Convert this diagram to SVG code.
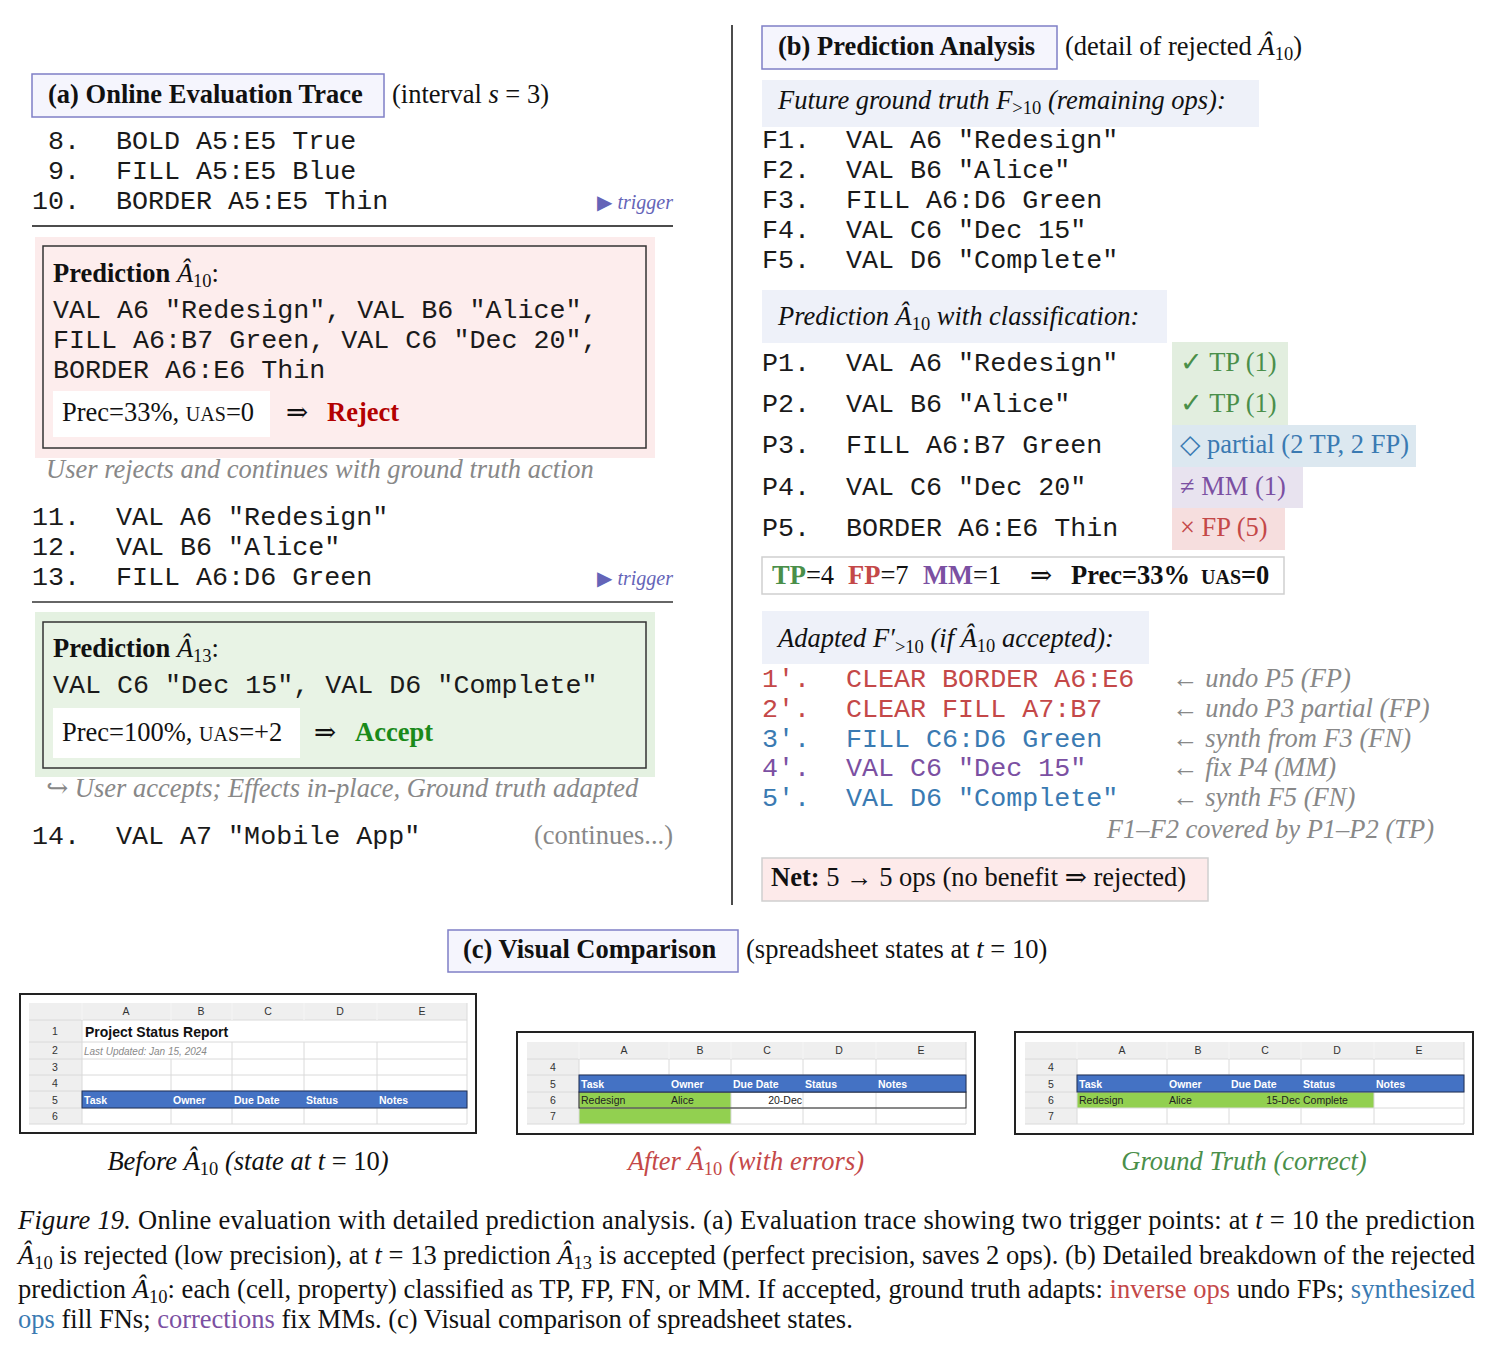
<svg xmlns="http://www.w3.org/2000/svg" width="1494" height="1350" viewBox="0 0 1494 1350">
<style>
text{font-family:"Liberation Serif","DejaVu Serif",serif;font-size:26.5px;fill:#111}
.mono{font-family:"Liberation Mono","DejaVu Sans Mono",monospace;font-size:26.7px;fill:#1a1a1a}
.it{font-style:italic}
.b{font-weight:bold}
.gray{fill:#888}
.sub{font-size:18.5px}
.hdr{fill:#f5f5fd;stroke:#7f7fc6;stroke-width:1.5}
.sec{fill:#eef1f9}
.trig{font-size:20px;fill:#6464b8}
.red{fill:#c44848}
.blue{fill:#3a7ab2}
.purp{fill:#7b50a2}
.green{fill:#4a8f4a}
.sc{font-size:20px}
.ss{font-family:"Liberation Sans","DejaVu Sans",sans-serif;font-size:10.5px;fill:#222}
.ssh{font-family:"Liberation Sans","DejaVu Sans",sans-serif;font-size:10.5px;fill:#fff;font-weight:bold}
.ssn{font-family:"Liberation Sans","DejaVu Sans",sans-serif;font-size:10.5px;fill:#333;text-anchor:middle}
.grid{stroke:#dadada;stroke-width:1;fill:none}
.hbg{fill:#efefef}
.frame{fill:#fff;stroke:#222;stroke-width:2}
.bluerow{fill:#4472c4;stroke:#1f2f55;stroke-width:1}
.gfill{fill:#92d050}
</style>
<rect width="1494" height="1350" fill="#fff"/>

<!-- ===== Panel (a) ===== -->
<g id="panel-a-header">
<rect class="hdr" x="32" y="74" width="352" height="43"/>
<text x="48" y="103" class="b">(a) Online Evaluation Trace</text>
<text x="392" y="103">(interval <tspan class="it">s</tspan> = 3)</text>
</g>
<g id="trace-8-10">
<text class="mono" x="48" y="149">8.</text><text class="mono" x="116" y="149">BOLD A5:E5 True</text>
<text class="mono" x="48" y="179">9.</text><text class="mono" x="116" y="179">FILL A5:E5 Blue</text>
<text class="mono" x="32" y="209">10.</text><text class="mono" x="116" y="209">BORDER A5:E5 Thin</text>
<text class="trig" x="673" y="209" text-anchor="end">▶ <tspan class="it">trigger</tspan></text>
<line x1="32" y1="226" x2="673" y2="226" stroke="#111" stroke-width="1.5"/>
</g>
<g id="pred-a10">
<rect x="35" y="237" width="620" height="221" fill="#fcebeb"/>
<rect x="43" y="246" width="603" height="202" fill="#fdeded" stroke="#333" stroke-width="1.5"/>
<text x="53" y="282"><tspan class="b">Prediction</tspan> <tspan class="it">Â</tspan><tspan class="sub" dy="5">10</tspan><tspan dy="-5">:</tspan></text>
<text class="mono" x="53" y="318">VAL A6 "Redesign", VAL B6 "Alice",</text>
<text class="mono" x="53" y="348">FILL A6:B7 Green, VAL C6 "Dec 20",</text>
<text class="mono" x="53" y="378">BORDER A6:E6 Thin</text>
<rect x="53" y="391" width="217" height="46" fill="#fff"/>
<text x="62" y="421">Prec=33%, <tspan class="sc">UAS</tspan>=0</text>
<text x="286" y="421">⇒</text>
<text x="327" y="421" class="b" style="fill:#b30000">Reject</text>
</g>
<text x="46" y="478" class="it gray">User rejects and continues with ground truth action</text>
<g id="trace-11-13">
<text class="mono" x="32" y="525">11.</text><text class="mono" x="116" y="525">VAL A6 "Redesign"</text>
<text class="mono" x="32" y="555">12.</text><text class="mono" x="116" y="555">VAL B6 "Alice"</text>
<text class="mono" x="32" y="585">13.</text><text class="mono" x="116" y="585">FILL A6:D6 Green</text>
<text class="trig" x="673" y="585" text-anchor="end">▶ <tspan class="it">trigger</tspan></text>
<line x1="32" y1="602" x2="673" y2="602" stroke="#333" stroke-width="1.5"/>
</g>
<g id="pred-a13">
<rect x="35" y="612" width="620" height="165" fill="#e4f1e1"/>
<rect x="43" y="622" width="603" height="146" fill="#e8f3e5" stroke="#333" stroke-width="1.5"/>
<text x="53" y="657"><tspan class="b">Prediction</tspan> <tspan class="it">Â</tspan><tspan class="sub" dy="5">13</tspan><tspan dy="-5">:</tspan></text>
<text class="mono" x="53" y="693">VAL C6 "Dec 15", VAL D6 "Complete"</text>
<rect x="53" y="708" width="247" height="50" fill="#fff"/>
<text x="62" y="741">Prec=100%, <tspan class="sc">UAS</tspan>=+2</text>
<text x="314" y="741">⇒</text>
<text x="355" y="741" class="b" style="fill:#1a8a1a">Accept</text>
</g>
<text x="46" y="797" class="gray">↪ <tspan class="it">User accepts; Effects in-place, Ground truth adapted</tspan></text>
<g id="trace-14">
<text class="mono" x="32" y="844">14.</text><text class="mono" x="116" y="844">VAL A7 "Mobile App"</text>
<text x="673" y="844" text-anchor="end" class="gray">(continues...)</text>
</g>

<!-- divider -->
<g id="connectors">
<line x1="732" y1="25" x2="732" y2="905" stroke="#111" stroke-width="1.5"/>
</g>

<!-- ===== Panel (b) ===== -->
<g id="panel-b-header">
<rect class="hdr" x="762" y="26" width="295" height="43"/>
<text x="778" y="55" class="b">(b) Prediction Analysis</text>
<text x="1065" y="55">(detail of rejected <tspan class="it">Â</tspan><tspan class="sub" dy="5">10</tspan><tspan dy="-5">)</tspan></text>
</g>
<g id="future-gt">
<rect class="sec" x="762" y="80" width="497" height="47"/>
<text x="778" y="109" class="it">Future ground truth F<tspan class="sub" dy="5" style="font-style:normal">&gt;10</tspan><tspan dy="-5"> (remaining ops):</tspan></text>
<text class="mono" x="762" y="148">F1.</text><text class="mono" x="846" y="148">VAL A6 "Redesign"</text>
<text class="mono" x="762" y="178">F2.</text><text class="mono" x="846" y="178">VAL B6 "Alice"</text>
<text class="mono" x="762" y="208">F3.</text><text class="mono" x="846" y="208">FILL A6:D6 Green</text>
<text class="mono" x="762" y="238">F4.</text><text class="mono" x="846" y="238">VAL C6 "Dec 15"</text>
<text class="mono" x="762" y="268">F5.</text><text class="mono" x="846" y="268">VAL D6 "Complete"</text>
</g>
<g id="classification">
<rect class="sec" x="762" y="290" width="405" height="53"/>
<text x="778" y="325" class="it">Prediction Â<tspan class="sub" dy="5" style="font-style:normal">10</tspan><tspan dy="-5"> with classification:</tspan></text>
<rect x="1172" y="342" width="116" height="41" fill="#e2eedf"/>
<rect x="1172" y="383" width="116" height="42" fill="#e2eedf"/>
<rect x="1172" y="425" width="244" height="42" fill="#dce8f0"/>
<rect x="1172" y="467" width="131" height="41" fill="#e8e3ef"/>
<rect x="1172" y="508" width="113" height="42" fill="#f6dede"/>
<text class="mono" x="762" y="371">P1.</text><text class="mono" x="846" y="371">VAL A6 "Redesign"</text>
<text class="mono" x="762" y="412">P2.</text><text class="mono" x="846" y="412">VAL B6 "Alice"</text>
<text class="mono" x="762" y="453">P3.</text><text class="mono" x="846" y="453">FILL A6:B7 Green</text>
<text class="mono" x="762" y="495">P4.</text><text class="mono" x="846" y="495">VAL C6 "Dec 20"</text>
<text class="mono" x="762" y="536">P5.</text><text class="mono" x="846" y="536">BORDER A6:E6 Thin</text>
<text class="green" x="1180" y="371">✓ TP (1)</text>
<text class="green" x="1180" y="412">✓ TP (1)</text>
<text class="blue" x="1180" y="453">◇ partial (2 TP, 2 FP)</text>
<text class="purp" x="1180" y="495">≠ MM (1)</text>
<text class="red" x="1180" y="536">× FP (5)</text>
</g>
<g id="summary">
<rect x="762" y="557" width="522" height="37" fill="#fff" stroke="#cfcfcf" stroke-width="1.5"/>
<text x="772" y="584"><tspan class="b green">TP</tspan>=4</text>
<text x="848" y="584"><tspan class="b red">FP</tspan>=7</text>
<text x="923" y="584"><tspan class="b purp">MM</tspan>=1</text>
<text x="1030" y="584">⇒</text>
<text x="1071" y="584" class="b">Prec=33%</text>
<text x="1201" y="584" class="b"><tspan class="sc">UAS</tspan>=0</text>
</g>
<g id="adapted">
<rect class="sec" x="762" y="611" width="387" height="53"/>
<text x="778" y="647" class="it">Adapted F′<tspan class="sub" dy="6" style="font-style:normal">&gt;10</tspan><tspan dy="-6"> (if Â</tspan><tspan class="sub" dy="5" style="font-style:normal">10</tspan><tspan dy="-5"> accepted):</tspan></text>
<text class="mono red" x="762" y="687">1′.</text><text class="mono red" x="846" y="687">CLEAR BORDER A6:E6</text>
<text class="mono red" x="762" y="717">2′.</text><text class="mono red" x="846" y="717">CLEAR FILL A7:B7</text>
<text class="mono blue" x="762" y="747">3′.</text><text class="mono blue" x="846" y="747">FILL C6:D6 Green</text>
<text class="mono purp" x="762" y="776">4′.</text><text class="mono purp" x="846" y="776">VAL C6 "Dec 15"</text>
<text class="mono blue" x="762" y="806">5′.</text><text class="mono blue" x="846" y="806">VAL D6 "Complete"</text>
<text class="gray" x="1172" y="687">← <tspan class="it">undo P5 (FP)</tspan></text>
<text class="gray" x="1172" y="717">← <tspan class="it">undo P3 partial (FP)</tspan></text>
<text class="gray" x="1172" y="747">← <tspan class="it">synth from F3 (FN)</tspan></text>
<text class="gray" x="1172" y="776">← <tspan class="it">fix P4 (MM)</tspan></text>
<text class="gray" x="1172" y="806">← <tspan class="it">synth F5 (FN)</tspan></text>
<text class="gray it" x="1434" y="838" text-anchor="end">F1–F2 covered by P1–P2 (TP)</text>
</g>
<g id="net">
<rect x="762" y="858" width="446" height="43" fill="#fdeaea" stroke="#cfcfcf" stroke-width="1.5"/>
<text x="771" y="886"><tspan class="b">Net:</tspan> 5 → 5 ops (no benefit ⇒ rejected)</text>
</g>

<!-- ===== Panel (c) ===== -->
<g id="panel-c-header">
<rect class="hdr" x="448" y="930" width="290" height="42"/>
<text x="463" y="958" class="b">(c) Visual Comparison</text>
<text x="746" y="958">(spreadsheet states at <tspan class="it">t</tspan> = 10)</text>
</g>

<g id="sheet-before">
<rect class="frame" x="20" y="994" width="456" height="139"/>
<rect class="hbg" x="29" y="1003" width="438" height="17"/>
<rect class="hbg" x="29" y="1020" width="53" height="104"/>
<path class="grid" d="M29 1020H467M29 1042H467M29 1059H467M29 1075H467M29 1091H467M29 1108H467M29 1124H467M467 1003V1124M82 1003V1124M171 1003V1020M232 1003V1020M304 1003V1020M377 1003V1020M232 1042V1124M304 1042V1124M377 1042V1124M171 1059V1124"/>
<path d="M82 1003V1020M171 1003V1020M232 1003V1020M304 1003V1020M377 1003V1020" stroke="#fff" stroke-width="1"/>
<text class="ssn" x="126" y="1015">A</text><text class="ssn" x="201" y="1015">B</text><text class="ssn" x="268" y="1015">C</text><text class="ssn" x="340" y="1015">D</text><text class="ssn" x="422" y="1015">E</text>
<text class="ssn" x="55" y="1035">1</text><text class="ssn" x="55" y="1054">2</text><text class="ssn" x="55" y="1071">3</text><text class="ssn" x="55" y="1087">4</text><text class="ssn" x="55" y="1104">5</text><text class="ssn" x="55" y="1120">6</text>
<text class="ss" x="85" y="1037" style="font-size:14px;font-weight:bold;fill:#111">Project Status Report</text>
<text class="ss" x="84" y="1055" style="font-style:italic;fill:#8a8a8a;font-size:10px">Last Updated: Jan 15, 2024</text>
<rect class="bluerow" x="82" y="1091" width="385" height="17"/>
<text class="ssh" x="84" y="1104">Task</text><text class="ssh" x="173" y="1104">Owner</text><text class="ssh" x="234" y="1104">Due Date</text><text class="ssh" x="306" y="1104">Status</text><text class="ssh" x="379" y="1104">Notes</text>
</g>

<g id="sheet-after">
<rect class="frame" x="517" y="1032" width="458" height="102"/>
<rect class="hbg" x="527" y="1042" width="439" height="17"/>
<rect class="hbg" x="527" y="1059" width="52" height="65"/>
<rect class="gfill" x="579" y="1092" width="152" height="32"/>
<path class="grid" d="M527 1059H966M527 1075H966M527 1092H966M527 1108H966M527 1124H966M966 1042V1124M579 1042V1124M669 1042V1092M731 1042V1124M803 1042V1124M876 1042V1124"/>
<path d="M669 1042V1059M731 1042V1059M803 1042V1059M876 1042V1059M579 1042V1059" stroke="#fff" stroke-width="1"/>
<rect x="579" y="1092" width="387" height="16" fill="none" stroke="#222" stroke-width="1"/>
<text class="ssn" x="624" y="1054">A</text><text class="ssn" x="700" y="1054">B</text><text class="ssn" x="767" y="1054">C</text><text class="ssn" x="839" y="1054">D</text><text class="ssn" x="921" y="1054">E</text>
<text class="ssn" x="553" y="1071">4</text><text class="ssn" x="553" y="1088">5</text><text class="ssn" x="553" y="1104">6</text><text class="ssn" x="553" y="1120">7</text>
<rect class="bluerow" x="579" y="1075" width="387" height="17"/>
<text class="ssh" x="581" y="1088">Task</text><text class="ssh" x="671" y="1088">Owner</text><text class="ssh" x="733" y="1088">Due Date</text><text class="ssh" x="805" y="1088">Status</text><text class="ssh" x="878" y="1088">Notes</text>
<text class="ss" x="581" y="1104">Redesign</text><text class="ss" x="671" y="1104">Alice</text><text class="ss" x="802" y="1104" text-anchor="end">20-Dec</text>
</g>

<g id="sheet-truth" transform="translate(498 0)">
<rect class="frame" x="517" y="1032" width="458" height="102"/>
<rect class="hbg" x="527" y="1042" width="439" height="17"/>
<rect class="hbg" x="527" y="1059" width="52" height="65"/>
<rect class="gfill" x="579" y="1092" width="297" height="16"/>
<path class="grid" d="M527 1059H966M527 1075H966M527 1092H966M527 1108H966M527 1124H966M966 1042V1124M579 1042V1124M669 1042V1092M731 1042V1092M803 1042V1092M876 1042V1124M669 1108V1124M731 1108V1124M803 1108V1124"/>
<path d="M669 1042V1059M731 1042V1059M803 1042V1059M876 1042V1059M579 1042V1059" stroke="#fff" stroke-width="1"/>
<text class="ssn" x="624" y="1054">A</text><text class="ssn" x="700" y="1054">B</text><text class="ssn" x="767" y="1054">C</text><text class="ssn" x="839" y="1054">D</text><text class="ssn" x="921" y="1054">E</text>
<text class="ssn" x="553" y="1071">4</text><text class="ssn" x="553" y="1088">5</text><text class="ssn" x="553" y="1104">6</text><text class="ssn" x="553" y="1120">7</text>
<rect class="bluerow" x="579" y="1075" width="387" height="17"/>
<text class="ssh" x="581" y="1088">Task</text><text class="ssh" x="671" y="1088">Owner</text><text class="ssh" x="733" y="1088">Due Date</text><text class="ssh" x="805" y="1088">Status</text><text class="ssh" x="878" y="1088">Notes</text>
<text class="ss" x="581" y="1104">Redesign</text><text class="ss" x="671" y="1104">Alice</text><text class="ss" x="802" y="1104" text-anchor="end">15-Dec</text><text class="ss" x="805" y="1104">Complete</text>
</g>

<g id="sheet-captions">
<text x="248" y="1170" text-anchor="middle" class="it">Before Â<tspan class="sub" dy="5" style="font-style:normal">10</tspan><tspan dy="-5"> (state at t</tspan><tspan style="font-style:normal"> = 10</tspan>)</text>
<text x="746" y="1170" text-anchor="middle" class="it red">After Â<tspan class="sub" dy="5" style="font-style:normal">10</tspan><tspan dy="-5"> (with errors)</tspan></text>
<text x="1244" y="1170" text-anchor="middle" class="it green">Ground Truth (correct)</text>
</g>

<!-- ===== Figure caption ===== -->
<g id="caption">
<text x="18" y="1229" textLength="1457" lengthAdjust="spacing"><tspan class="it">Figure 19.</tspan> Online evaluation with detailed prediction analysis. (a) Evaluation trace showing two trigger points: at <tspan class="it">t</tspan> = 10 the prediction</text>
<text x="18" y="1264" textLength="1457" lengthAdjust="spacing"><tspan class="it">Â</tspan><tspan class="sub" dy="5">10</tspan><tspan dy="-5"> is rejected (low precision), at </tspan><tspan class="it">t</tspan> = 13 prediction <tspan class="it">Â</tspan><tspan class="sub" dy="5">13</tspan><tspan dy="-5"> is accepted (perfect precision, saves 2 ops). (b) Detailed breakdown of the rejected</tspan></text>
<text x="18" y="1298" textLength="1457" lengthAdjust="spacing">prediction <tspan class="it">Â</tspan><tspan class="sub" dy="5">10</tspan><tspan dy="-5">: each (cell, property) classified as TP, FP, FN, or MM. If accepted, ground truth adapts: </tspan><tspan class="red">inverse ops</tspan> undo FPs; <tspan class="blue">synthesized</tspan></text>
<text x="18" y="1328"><tspan class="blue">ops</tspan> fill FNs; <tspan class="purp">corrections</tspan> fix MMs. (c) Visual comparison of spreadsheet states.</text>
</g>
</svg>
